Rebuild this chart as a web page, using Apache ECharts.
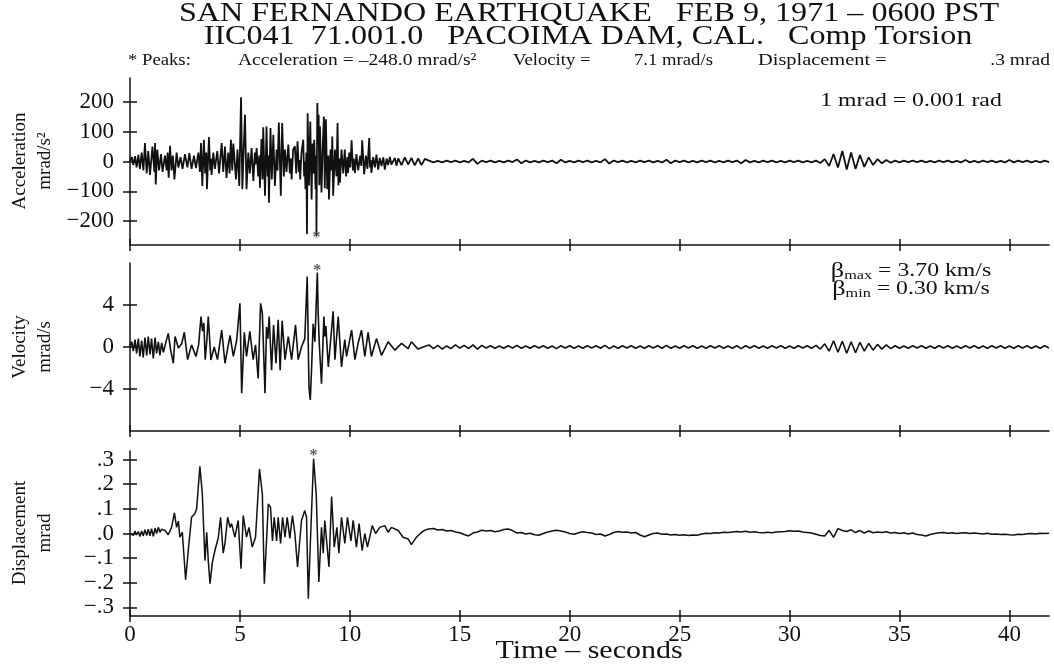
<!DOCTYPE html>
<html>
<head>
<meta charset="utf-8">
<script src="https://cdn.jsdelivr.net/npm/echarts@6/dist/echarts.min.js"></script>
<style>
  html, body { margin: 0; background: #fff; }
  #chart { width: 1054px; height: 665px; }
</style>
</head>
<body>
<div id="chart"></div>
<script>
// Pacoima Dam torsion record: [time s, value]
var accelEvent = [[0,0],[0.08,15],[0.15,-12],[0.23,18],[0.3,-20],[0.38,22],[0.45,-25],[0.53,30],[0.61,-30],[0.68,62],[0.76,-40],[0.83,35],[0.91,-45],[1.02,50],[1.11,-35],[1.14,62],[1.17,-77],[1.24,40],[1.32,-30],[1.41,25],[1.48,-35],[1.59,20],[1.67,-30],[1.71,30],[1.76,-54],[1.82,53],[1.89,-30],[1.95,20],[2.02,-60],[2.12,30],[2.2,-20],[2.3,15],[2.39,-25],[2.5,25],[2.61,-20],[2.7,28],[2.8,-25],[2.91,20],[3.0,-22],[3.11,30],[3.18,-35],[3.23,62],[3.29,-82],[3.36,73],[3.42,-40],[3.47,30],[3.5,-93],[3.59,82],[3.65,-30],[3.68,10],[3.71,-45],[3.79,30],[3.86,-25],[3.97,35],[4.05,-40],[4.17,62],[4.24,-35],[4.32,50],[4.39,-55],[4.47,30],[4.53,-40],[4.59,73],[4.65,-30],[4.7,60],[4.82,-60],[4.89,40],[4.97,-82],[5.05,215],[5.11,-93],[5.17,40],[5.23,157],[5.3,-93],[5.38,30],[5.45,-40],[5.53,45],[5.61,-65],[5.68,30],[5.71,-10],[5.76,45],[5.83,-50],[5.88,20],[5.91,-88],[5.98,75],[6.03,-60],[6.06,115],[6.14,-115],[6.21,117],[6.26,-50],[6.29,20],[6.32,-138],[6.39,112],[6.45,-60],[6.52,90],[6.59,-82],[6.67,40],[6.71,-30],[6.77,131],[6.86,-115],[6.92,129],[7.0,-50],[7.05,40],[7.12,-35],[7.2,57],[7.27,-40],[7.32,10],[7.35,-60],[7.42,40],[7.5,51],[7.56,-40],[7.62,68],[7.68,-35],[7.71,5],[7.74,-60],[7.8,30],[7.88,73],[7.92,-50],[7.95,0],[7.98,-93],[8.02,30],[8.05,-243],[8.08,162],[8.14,-80],[8.2,134],[8.26,-127],[8.3,60],[8.35,-40],[8.38,73],[8.44,-93],[8.47,20],[8.48,-248],[8.52,196],[8.56,60],[8.58,157],[8.61,-80],[8.64,118],[8.71,-104],[8.77,60],[8.82,151],[8.86,-90],[8.91,142],[8.97,-93],[9.02,20],[9.05,-127],[9.12,40],[9.17,-30],[9.2,84],[9.24,-115],[9.32,40],[9.39,-50],[9.44,129],[9.48,-80],[9.52,10],[9.55,-71],[9.62,40],[9.7,-40],[9.77,40],[9.83,-50],[9.89,15],[9.92,-38],[9.97,30],[10.02,-20],[10.08,71],[10.14,-30],[10.18,10],[10.23,-38],[10.3,25],[10.38,-30],[10.47,20],[10.52,-15],[10.56,71],[10.61,10],[10.65,-43],[10.73,20],[10.8,-25],[10.88,79],[10.92,-20],[10.95,5],[10.98,-38],[11.06,15],[11.14,-20],[11.21,23],[11.29,-27],[11.36,12],[11.44,-15],[11.52,14],[11.59,-27],[11.67,10],[11.74,-12],[11.82,15],[11.89,-10],[12.05,12],[12.12,-14],[12.2,10],[12.35,-12],[12.5,14],[12.65,-10],[12.8,12],[12.95,-13],[13.11,10],[13.26,-12],[13.41,9]];

var velEvent = [[0,0],[0.08,0.5],[0.15,-0.4],[0.23,0.7],[0.3,-0.6],[0.38,0.8],[0.45,-0.9],[0.53,0.6],[0.6,-1.0],[0.68,0.9],[0.76,-0.8],[0.83,1.0],[0.91,-0.7],[0.98,0.8],[1.06,-1.1],[1.14,0.9],[1.21,-0.6],[1.29,0.5],[1.36,-0.8],[1.44,0.4],[1.52,-0.5],[1.6,0.2],[1.74,1.3],[1.85,-0.3],[1.97,-1.55],[2.05,1.0],[2.2,-0.1],[2.35,0.3],[2.47,1.4],[2.62,-1.2],[2.8,0.2],[3.0,-0.9],[3.12,0.2],[3.23,2.9],[3.3,1.5],[3.36,2.3],[3.42,-1.2],[3.5,0.8],[3.56,2.9],[3.68,-1.24],[3.83,0.0],[3.98,-1.2],[4.17,1.6],[4.32,-1.55],[4.55,1.1],[4.7,-0.9],[4.85,0.6],[5.0,4.16],[5.08,-4.4],[5.2,1.4],[5.3,-0.9],[5.45,1.5],[5.6,-1.2],[5.71,0.2],[5.83,-3.0],[5.94,4.16],[6.02,3.2],[6.14,-4.4],[6.21,1.9],[6.27,0.8],[6.33,2.9],[6.44,-2.2],[6.53,2.1],[6.64,-1.55],[6.74,2.6],[6.83,-2.2],[6.92,2.5],[7.05,-1.2],[7.2,1.0],[7.35,-1.2],[7.53,2.1],[7.65,-1.2],[7.8,0.0],[7.95,0.8],[8.06,6.7],[8.14,-3.8],[8.2,-5.05],[8.26,-2.0],[8.33,2.2],[8.41,0.5],[8.52,7.1],[8.56,3.2],[8.61,0.3],[8.71,-3.5],[8.82,2.9],[8.86,1.0],[8.91,2.0],[9.02,-1.9],[9.12,0.5],[9.24,3.4],[9.32,-1.2],[9.47,2.9],[9.62,-1.9],[9.77,0.7],[9.85,-0.9],[10.08,1.6],[10.23,-1.2],[10.38,0.4],[10.53,1.6],[10.68,-0.9],[10.83,1.4],[10.98,-0.9],[11.21,0.8],[11.44,-0.8],[11.74,0.5],[12.05,-0.3],[12.35,0.35],[12.65,-0.15],[12.8,0.5],[13.1,-0.2],[13.4,0.05]];

var dispEvent = [[0,0],[0.08,0.005],[0.15,-0.008],[0.23,0.01],[0.3,-0.006],[0.38,0.008],[0.45,-0.012],[0.53,0.01],[0.6,-0.01],[0.68,0.015],[0.76,-0.008],[0.83,0.018],[0.91,-0.01],[0.98,0.02],[1.06,-0.012],[1.14,0.022],[1.21,0.0],[1.29,0.025],[1.36,0.005],[1.44,0.018],[1.52,0.01],[1.59,0.012],[1.74,-0.005],[1.89,0.025],[2.02,0.084],[2.12,0.025],[2.2,0.05],[2.27,-0.015],[2.38,0.005],[2.53,-0.188],[2.68,-0.04],[2.8,0.066],[2.95,0.08],[3.03,0.1],[3.18,0.273],[3.29,0.16],[3.41,-0.11],[3.49,0.005],[3.56,-0.11],[3.64,-0.204],[3.74,-0.12],[3.86,-0.07],[4.02,-0.015],[4.12,0.066],[4.24,-0.08],[4.32,-0.04],[4.44,0.066],[4.55,0.025],[4.62,0.04],[4.77,-0.015],[4.92,0.053],[5.05,-0.143],[5.15,0.073],[5.3,-0.015],[5.41,0.025],[5.56,-0.055],[5.71,-0.015],[5.89,0.262],[6.02,0.16],[6.11,-0.204],[6.21,-0.03],[6.29,0.12],[6.39,0.107],[6.48,-0.03],[6.56,0.066],[6.67,-0.03],[6.74,0.066],[6.85,-0.04],[6.94,0.066],[7.05,-0.015],[7.15,0.066],[7.27,-0.02],[7.39,0.073],[7.5,0.0],[7.62,-0.136],[7.8,0.053],[7.95,0.093],[8.03,0.066],[8.11,-0.265],[8.23,0.025],[8.35,0.303],[8.47,0.16],[8.59,-0.197],[8.71,0.025],[8.79,-0.08],[8.86,0.053],[9.05,-0.136],[9.17,0.15],[9.29,-0.055],[9.41,0.025],[9.5,-0.08],[9.62,0.066],[9.77,-0.04],[9.89,0.066],[10.05,-0.03],[10.15,0.053],[10.3,-0.055],[10.42,0.04],[10.56,-0.07],[10.68,0.0],[10.8,-0.055],[11.02,0.032],[11.17,0.0],[11.36,0.025],[11.59,0.032],[11.74,0.005],[11.89,0.025],[12.2,0.012],[12.42,-0.015],[12.65,-0.022],[12.8,-0.045],[13.03,-0.015],[13.26,0.005],[13.45,0.015]];

// quiet coda, sampled every 0.2 s from 13.6 s
var tailStart = 13.6;
var tailStep = 0.2;
var accelTail = [3,-3,2,-3,3,-2,3,-3,2,-3, 9,-8,3,-2,3,-3,2,-3,3,-2, 7,-6,3,-3,2,-3,3,-2,3,-6, 6,-3,2,-3,3,-2,3,-3,2,-3, 8,-7,3,-2,3,-3,2,-3,3,-2, 3,-3,2,-3,6,-6,3,-2,3,-3, 2,-3,3,-2,3,-3,2,-3,3,-2, 3,-6,5,-3,2,-3,3,-2,3,-3, 2,-3,3,-2,3,-3,2,-3,3,-5, 8,-15,25,-20,35,-27,30,-25,22,-18,14,-12, 8,-6,5,-4,3,-3,3,-2,3,-2, 3,-3,2,-3,3,-2,3,-3,2,-3, 5,-3,2,-3,3,-2,3,-3,2,-3, 5,-3,3,-2,3,-3,2,-3,3,-2];
var velTail = [0.2,-0.15,0.15,-0.2,0.1,-0.15,0.2,-0.1,0.15,-0.15, 0.2,-0.2,0.15,-0.1,0.12,-0.12,0.1,-0.12,0.12,-0.1, 0.15,-0.12,0.1,-0.12,0.12,-0.1,0.12,-0.12,0.1,-0.15, 0.12,-0.1,0.12,-0.12,0.1,-0.12,0.12,-0.1,0.12,-0.12, 0.15,-0.15,0.1,-0.12,0.12,-0.1,0.12,-0.12,0.1,-0.12, 0.12,-0.1,0.12,-0.12,0.15,-0.12,0.1,-0.12,0.12,-0.1, 0.12,-0.12,0.1,-0.12,0.12,-0.1,0.12,-0.12,0.1,-0.12, 0.12,-0.15,0.12,-0.1,0.12,-0.12,0.1,-0.12,0.12,-0.1, 0.12,-0.12,0.1,-0.12,0.12,-0.1,0.12,-0.12,0.15,-0.2, 0.3,-0.4,0.6,-0.5,0.55,-0.6,0.5,-0.55,0.45,-0.4,0.35,-0.3, 0.25,-0.2,0.2,-0.15,0.12,-0.12,0.1,-0.12,0.12,-0.1, 0.12,-0.12,0.1,-0.12,0.12,-0.1,0.12,-0.12,0.1,-0.12, 0.12,-0.1,0.12,-0.12,0.1,-0.12,0.12,-0.1,0.12,-0.12, 0.1,-0.12,0.12,-0.1,0.12,-0.12,0.1,-0.12,0.12,-0.1];
var dispTail = [0.018,0.02,0.014,0.016,0.01,0.012,0.006,0.003,-0.004,-0.01, 0.002,0.006,0.013,0.01,0.012,0.007,0.01,0.016,0.018,0.012, 0.002,0.004,-0.002,0.001,-0.005,-0.007,0.0,0.006,0.01,0.013, 0.01,0.006,0.0,-0.003,0.003,0.007,0.004,0.002,-0.004,-0.002, -0.01,-0.004,0.004,0.008,0.005,0.006,0.002,0.004,-0.006,-0.013, -0.006,0.0,0.002,-0.003,-0.002,-0.006,-0.004,-0.007,-0.005,-0.008, -0.006,-0.007,-0.002,0.001,0.0,0.003,0.002,0.005,0.004,0.006, 0.008,0.006,0.009,0.005,0.007,0.004,0.003,0.005,0.003,0.006, 0.007,0.008,0.011,0.009,0.01,0.006,0.004,0.002,-0.003,-0.008, -0.01,0.013,-0.016,0.02,0.012,0.008,0.015,0.004,0.012,0.002,0.01,0.003, 0.006,0.004,0.007,0.002,0.004,0.0,0.003,-0.002,0.002,-0.004, -0.006,-0.01,-0.004,0.0,0.003,0.004,0.001,0.003,0.0,0.002, 0.003,0.0,0.002,0.0,-0.002,0.001,-0.003,-0.002,-0.004,-0.003, -0.005,-0.006,-0.003,-0.004,-0.001,0.0,-0.002,0.001,0.0,0.001];

// peaks marked with *
var accelPeak = [8.48, -248];
var velPeak = [8.52, 7.1];
var dispPeak = [8.35, 0.303];

var timeTicks = [0, 5, 10, 15, 20, 25, 30, 35, 40];
var accelTicks = [-200, -100, 0, 100, 200];
var velTicks = [-4, 0, 4];
var dispTicks = [-0.3, -0.2, -0.1, 0, 0.1, 0.2, 0.3];

var serif = '"Liberation Serif", "Times New Roman", serif';
var ink = '#111';

function withTail(event, tail) {
    var out = event.slice();
    tail.forEach(function (v, i) {
        out.push([+(tailStart + i * tailStep).toFixed(2), v]);
    });
    return out;
}

function minus(s) { return String(s).replace('-', '\u2212'); }

var grids = [
    { left: 130, right: 5, top: 78, height: 167 },
    { left: 130, right: 5, top: 263, height: 168 },
    { left: 130, right: 5, top: 451, height: 165 }
];

var xAxes = [], yAxes = [];
grids.forEach(function (g, i) {
    var base = {
        type: 'value', gridIndex: i, position: 'bottom', offset: 0, min: 0, max: 41.8,
        splitLine: { show: false }
    };
    // outward ticks + line
    xAxes.push(Object.assign({}, base, {
        axisLine: { show: true, onZero: false, lineStyle: { color: ink, width: 1.5 } },
        axisTick: { show: true, length: 6, customValues: timeTicks, lineStyle: { color: ink, width: 1.5 } },
        axisLabel: { show: i === 2, customValues: timeTicks, color: ink, fontFamily: serif, fontSize: 23, margin: 7 }
    }));
    // inward half of the crossing ticks
    xAxes.push(Object.assign({}, base, {
        axisLine: { show: false, onZero: false },
        axisTick: { show: true, inside: true, length: 6, customValues: timeTicks, lineStyle: { color: ink, width: 1.5 } },
        axisLabel: { show: false }
    }));
});

var yDefs = [
    { min: -280, max: 280, ticks: accelTicks, fmt: function (v) { return minus(v); } },
    { min: -8, max: 8, ticks: velTicks, fmt: function (v) { return minus(v); } },
    { min: -0.335, max: 0.335, ticks: dispTicks, fmt: function (v) { return minus(v.toFixed(1).replace('0.', '.')); } }
];
yDefs.forEach(function (d, i) {
    var base = { type: 'value', gridIndex: i, position: 'left', offset: 0, min: d.min, max: d.max, splitLine: { show: false } };
    yAxes.push(Object.assign({}, base, {
        axisLine: { show: true, onZero: false, lineStyle: { color: ink, width: 1.5 } },
        axisTick: { show: true, length: 7, customValues: d.ticks, lineStyle: { color: ink, width: 1.5 } },
        axisLabel: { customValues: d.ticks, formatter: d.fmt, color: ink, fontFamily: serif, fontSize: 23, margin: 16 }
    }));
    yAxes.push(Object.assign({}, base, {
        axisLine: { show: false, onZero: false },
        axisTick: { show: true, inside: true, length: 7, customValues: d.ticks, lineStyle: { color: ink, width: 1.5 } },
        axisLabel: { show: false }
    }));
});

function trace(i, data, w) {
    return {
        type: 'line', xAxisIndex: i * 2, yAxisIndex: i * 2, data: data,
        showSymbol: false, symbol: 'none', sampling: null,
        lineStyle: { color: ink, width: w }
    };
}
function star(i, p, dy) {
    return {
        type: 'scatter', xAxisIndex: i * 2, yAxisIndex: i * 2, data: [p],
        symbolSize: 0, silent: true, z: 5,
        label: { show: true, formatter: '*', position: 'inside', offset: [0, dy], color: '#333', fontFamily: serif, fontSize: 16, fontWeight: 'bold' }
    };
}

function txt(x, y, text, size, opts) {
    return Object.assign({
        type: 'text', x: x, y: y, silent: true,
        style: Object.assign({
            text: text, fill: ink,
            font: size + 'px ' + serif,
            textAlign: 'center', textVerticalAlign: 'middle'
        }, (opts && opts.style) || {})
    }, opts && opts.el || {});
}

var chartDom = document.getElementById('chart');
var myChart = echarts.init(chartDom);

var betaRich = {
    b: { fontFamily: serif, fontSize: 21, lineHeight: 20 },
    s: { fontFamily: serif, fontSize: 13, lineHeight: 20, padding: [10, 0, 0, 0] },
    n: { fontFamily: serif, fontSize: 19, lineHeight: 20 }
};

var option = {
    animation: false,
    backgroundColor: '#fff',
    grid: grids,
    xAxis: xAxes,
    yAxis: yAxes,
    series: [
        trace(0, withTail(accelEvent, accelTail), 1.8),
        trace(1, withTail(velEvent, velTail), 1.6),
        trace(2, withTail(dispEvent, dispTail), 1.5),
        star(0, accelPeak, 2),
        star(1, velPeak, -2),
        star(2, dispPeak, -3)
    ],
    graphic: [
        txt(589, 14, 'SAN FERNANDO EARTHQUAKE   FEB 9, 1971 \u2013 0600 PST', 27, { el: { scaleX: 1.19 } }),
        txt(588, 37, 'IIC041  71.001.0   PACOIMA DAM, CAL.   Comp Torsion', 27, { el: { scaleX: 1.19 } }),
        txt(128, 61, '* Peaks:', 17, { el: { scaleX: 1.1 }, style: { textAlign: 'left' } }),
        txt(238, 61, 'Acceleration = \u2013248.0 mrad/s\u00b2', 17, { el: { scaleX: 1.15 }, style: { textAlign: 'left' } }),
        txt(513, 61, 'Velocity =', 17, { el: { scaleX: 1.1 }, style: { textAlign: 'left' } }),
        txt(634, 61, '7.1 mrad/s', 17, { el: { scaleX: 1.1 }, style: { textAlign: 'left' } }),
        txt(758, 61, 'Displacement =', 17, { el: { scaleX: 1.2 }, style: { textAlign: 'left' } }),
        txt(1050, 61, '.3 mrad', 17, { el: { scaleX: 1.15 }, style: { textAlign: 'right' } }),
        txt(911, 101, '1 mrad = 0.001 rad', 19, { el: { scaleX: 1.25 } }),
        txt(911, 271, '{b|\u03b2}{s|max}{n| = 3.70 km/s}', 19, { el: { scaleX: 1.25 }, style: { rich: betaRich } }),
        txt(911, 289, '{b|\u03b2}{s|min}{n| = 0.30 km/s}', 19, { el: { scaleX: 1.25 }, style: { rich: betaRich } }),
        txt(33, 161, 'Acceleration\nmrad/s\u00b2', 19, { el: { rotation: Math.PI / 2 }, style: { lineHeight: 25 } }),
        txt(33, 347, 'Velocity\nmrad/s', 19, { el: { rotation: Math.PI / 2 }, style: { lineHeight: 25 } }),
        txt(33, 533, 'Displacement\nmrad', 19, { el: { rotation: Math.PI / 2 }, style: { lineHeight: 25 } }),
        txt(589, 651, 'Time \u2013 seconds', 25, { el: { scaleX: 1.2 } })
    ]
};

myChart.setOption(option);
</script>
</body>
</html>
